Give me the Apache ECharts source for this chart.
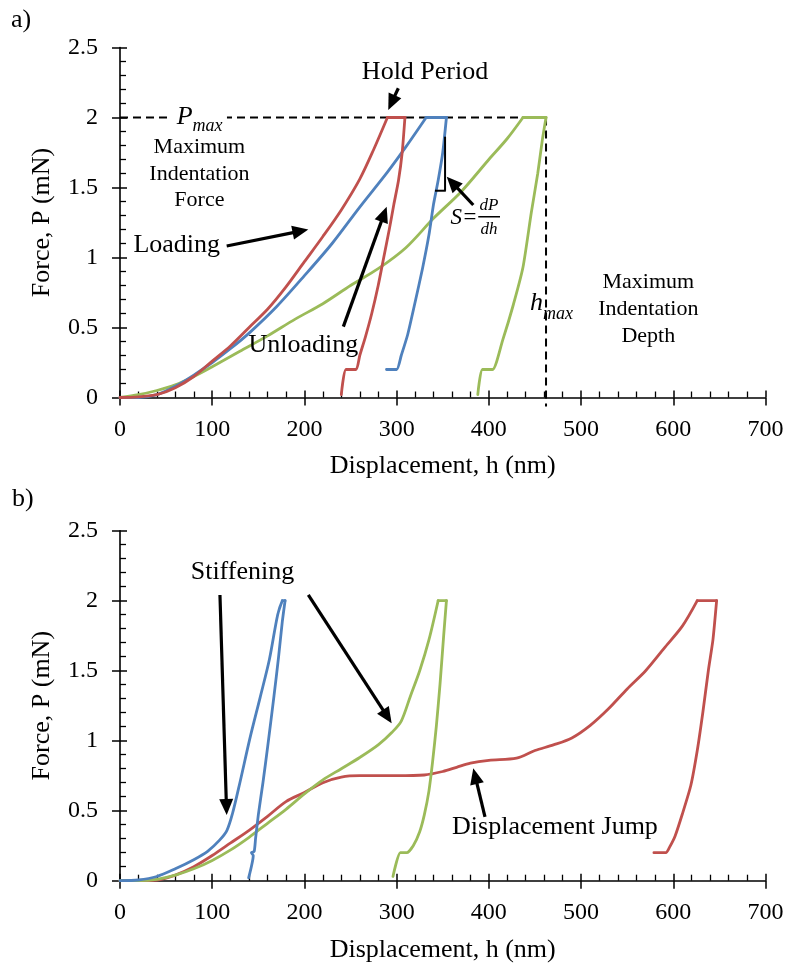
<!DOCTYPE html>
<html><head><meta charset="utf-8">
<script src="https://cdn.jsdelivr.net/npm/echarts@6/dist/echarts.min.js"></script>
<style>html,body{margin:0;padding:0;background:#fff}#c{width:787px;height:968px}</style>
</head><body><div id="c"></div>
<script>
// ---------- DATA ----------
const xTickValues = [0, 100, 200, 300, 400, 500, 600, 700];
const yTickValues = [0, 0.5, 1, 1.5, 2, 2.5];
const pMax = 2.0;
const hMax = 462;

// (a) top panel
const aRedX   = [0,20,40,60,80,100,120,140,160,180,200,220,240,260,275,290,309,306,302,297,292,286,280,273,266,260,256,245,240];
const aRedP   = [0,0.005,0.02,0.07,0.15,0.26,0.37,0.5,0.63,0.79,0.97,1.15,1.34,1.56,1.77,2.0,2.0,1.75,1.55,1.38,1.2,1.0,0.8,0.6,0.43,0.3,0.2,0.2,0.02];
const aBlueX  = [0,20,40,60,80,100,120,140,170,200,230,260,290,310,332,354,350,345,340,335,328,320,312,305,300,289];
const aBlueP  = [0,0,0.02,0.08,0.16,0.25,0.35,0.46,0.65,0.87,1.1,1.36,1.61,1.79,2.0,2.0,1.75,1.55,1.38,1.16,0.92,0.68,0.45,0.3,0.2,0.2];
const aGreenX = [0,20,40,60,80,100,130,160,190,220,250,280,310,340,370,400,420,437,462,458,453,446,437,426,415,404,393,388];
const aGreenP = [0,0.02,0.05,0.09,0.15,0.22,0.33,0.44,0.56,0.67,0.8,0.92,1.07,1.28,1.47,1.7,1.85,2.0,2.0,1.84,1.6,1.32,0.93,0.65,0.41,0.2,0.2,0.02];

// (b) bottom panel
const bRedX   = [0,20,40,60,80,100,120,140,160,180,200,220,240,260,300,330,350,365,380,400,430,450,470,490,510,530,550,570,590,610,626,647,643,638,632,626,619,610,602,596,592,579];
const bRedP   = [0,0,0.005,0.04,0.1,0.18,0.27,0.36,0.46,0.565,0.63,0.7,0.74,0.75,0.75,0.755,0.78,0.81,0.84,0.86,0.875,0.93,0.97,1.02,1.11,1.23,1.37,1.5,1.66,1.82,2.0,2.0,1.72,1.5,1.2,0.93,0.68,0.48,0.32,0.24,0.2,0.2];
const bBlueX  = [0,20,40,60,80,95,108,116,122,130,141,152,162,171,176,179,176,172,167,160,155,150,147,145.5,142.5,144.5,139.5];
const bBlueP  = [0,0.005,0.03,0.085,0.15,0.21,0.29,0.36,0.48,0.7,1.02,1.31,1.58,1.9,2.0,2.0,1.85,1.6,1.32,0.95,0.7,0.47,0.3,0.21,0.2,0.18,0.02];
const bGreenX = [0,20,40,60,80,100,120,140,160,180,200,220,240,260,280,295,305,315,325,335,345,354,351,347,343,339,335,330,325,318,311,304,296];
const bGreenP = [0,0,0.01,0.04,0.085,0.145,0.22,0.31,0.41,0.51,0.62,0.72,0.8,0.88,0.97,1.06,1.14,1.32,1.5,1.72,2.0,2.0,1.75,1.4,1.1,0.85,0.64,0.47,0.35,0.25,0.2,0.2,0.03];

// ---------- CHART ----------
const FONT = '"Liberation Serif", "Times New Roman", serif';
const RED = '#C0504D', BLUE = '#4F81BD', GREEN = '#9BBB59';
const chart = echarts.init(document.getElementById('c'), null, {renderer: 'canvas'});

function zip(xs, ps) { return xs.map((x, i) => [x, ps[i]]); }
function lineSeries(data, color, ai, smooth) {
  return {type: 'line', xAxisIndex: ai, yAxisIndex: ai, data: data, showSymbol: false, symbol: 'none',
    smooth: smooth, lineStyle: {color: color, width: 2.8, cap: 'round', join: 'round'}, itemStyle: {color: color},
    animation: false, clip: false, z: 3};
}
// one indentation curve = loading (smooth) + hold (straight) + unloading (smooth)
function curve(xs, ps, color, ai) {
  const d = zip(xs, ps);
  const i1 = ps.indexOf(pMax), i2 = i1 + 1;
  return [
    lineSeries(d.slice(0, i1 + 1), color, ai, 0.3),
    lineSeries(d.slice(i1, i2 + 1), color, ai, false),
    lineSeries(d.slice(i2), color, ai, 0.2)
  ];
}
function mainX(gi) {
  return {type: 'value', gridIndex: gi, min: 0, max: 700, interval: 100, position: 'bottom',
    axisLine: {show: true, onZero: false, lineStyle: {color: '#000', width: 1.6}},
    axisTick: {show: true, inside: true, length: 7, lineStyle: {color: '#000', width: 1.5}},
    minorTick: {show: true, splitNumber: 5, length: 6, lineStyle: {color: '#000', width: 1.3}},
    splitLine: {show: false}, minorSplitLine: {show: false},
    axisLabel: {margin: 20, fontFamily: FONT, fontSize: 24, color: '#000', showMinLabel: true, showMaxLabel: true,
      formatter: v => xTickValues.includes(v) ? String(v) : ''},
    name: 'Displacement, h (nm)', nameLocation: 'middle', nameGap: 56,
    nameTextStyle: {fontFamily: FONT, fontSize: 26, color: '#000'}};
}
function dummyX(gi) {
  return {type: 'value', gridIndex: gi, min: 0, max: 700, interval: 100, position: 'bottom',
    axisLine: {show: false, onZero: false}, axisTick: {show: true, inside: false, length: 8, lineStyle: {color: '#000', width: 1.5}},
    minorTick: {show: false}, splitLine: {show: false}, axisLabel: {show: false}};
}
function mainY(gi) {
  return {type: 'value', gridIndex: gi, min: 0, max: 2.5, interval: 0.5, position: 'left',
    axisLine: {show: true, onZero: false, lineStyle: {color: '#000', width: 1.6}},
    axisTick: {show: true, inside: true, length: 7, lineStyle: {color: '#000', width: 1.5}},
    minorTick: {show: true, splitNumber: 5, length: 6, lineStyle: {color: '#000', width: 1.3}},
    splitLine: {show: false}, minorSplitLine: {show: false},
    axisLabel: {margin: 22, fontFamily: FONT, fontSize: 24, color: '#000', showMinLabel: true, showMaxLabel: true,
      formatter: v => yTickValues.includes(v) ? String(v) : ''},
    name: 'Force, P (mN)', nameLocation: 'middle', nameGap: 65, nameRotate: 90,
    nameTextStyle: {fontFamily: FONT, fontSize: 26, color: '#000'}};
}
function dummyY(gi) {
  return {type: 'value', gridIndex: gi, min: 0, max: 2.5, interval: 0.5, position: 'left',
    axisLine: {show: false, onZero: false}, axisTick: {show: true, inside: false, length: 8, lineStyle: {color: '#000', width: 1.5}},
    minorTick: {show: false}, splitLine: {show: false}, axisLabel: {show: false}};
}

const dashStyle = {color: '#000', width: 2, type: [8, 5]};
chart.setOption({
  animation: false,
  backgroundColor: '#fff',
  grid: [
    {left: 120, top: 47.5, width: 645.5, height: 350, containLabel: false, outerBoundsMode: 'none'},
    {left: 120, top: 530.7, width: 645.5, height: 350, containLabel: false, outerBoundsMode: 'none'}
  ],
  xAxis: [mainX(0), mainX(1), dummyX(0), dummyX(1)],
  yAxis: [mainY(0), mainY(1), dummyY(0), dummyY(1)],
  series: [
    {type: 'line', xAxisIndex: 0, yAxisIndex: 0, data: [[0, pMax], [hMax, pMax]], showSymbol: false, symbol: 'none',
      lineStyle: dashStyle, clip: false, z: 2, animation: false},
    {type: 'line', xAxisIndex: 0, yAxisIndex: 0, data: [[hMax, pMax], [hMax, -0.065]], showSymbol: false, symbol: 'none',
      lineStyle: dashStyle, clip: false, z: 2, animation: false}
  ].concat(
    curve(aGreenX, aGreenP, GREEN, 0),
    curve(aBlueX, aBlueP, BLUE, 0),
    curve(aRedX, aRedP, RED, 0),
    curve(bRedX, bRedP, RED, 1),
    curve(bGreenX, bGreenP, GREEN, 1),
    curve(bBlueX, bBlueP, BLUE, 1)
  )
});

// ---------- ANNOTATIONS (placed in data coordinates) ----------
const ANN = [];
function px(gi, pt) { return chart.convertToPixel({gridIndex: gi}, pt); }
function txt(gi, x, p, text, size, o) {
  o = o || {};
  const q = px(gi, [x, p]);
  const st = {text: text, x: q[0], y: q[1], fill: '#000', font: (o.italic ? 'italic ' : '') + size + 'px ' + FONT,
    align: o.align || 'center', verticalAlign: 'middle'};
  if (o.lh) st.lineHeight = o.lh;
  ANN.push({type: 'text', z: 100, style: st});
}
function seg(gi, a, b, w) {
  const p1 = px(gi, a), p2 = px(gi, b);
  ANN.push({type: 'line', z: 100, shape: {x1: p1[0], y1: p1[1], x2: p2[0], y2: p2[1]}, style: {stroke: '#000', lineWidth: w}});
}
function arrow(gi, a, b) {
  const p1 = px(gi, a), p2 = px(gi, b);
  const dx = p2[0] - p1[0], dy = p2[1] - p1[1], L = Math.hypot(dx, dy), ux = dx / L, uy = dy / L;
  const hl = 16, hw = 7;
  const bx = p2[0] - ux * hl, by = p2[1] - uy * hl;
  ANN.push({type: 'line', z: 100, shape: {x1: p1[0], y1: p1[1], x2: bx + ux * 3, y2: by + uy * 3}, style: {stroke: '#000', lineWidth: 3.2}});
  ANN.push({type: 'polygon', z: 100, shape: {points: [[p2[0], p2[1]], [bx - uy * hw, by + ux * hw], [bx + uy * hw, by - ux * hw]]}, style: {fill: '#000'}});
}

// panel (a)
const r1 = px(0, [56, pMax]), r2 = px(0, [116, pMax]);
ANN.push({type: 'rect', z: 99, shape: {x: r1[0], y: r1[1] - 4, width: r2[0] - r1[0], height: 8}, style: {fill: '#fff'}});
txt(0, 61.5, 2.0, 'P', 26, {italic: true, align: 'left'});
txt(0, 78.5, 1.936, 'max', 18, {italic: true, align: 'left'});
txt(0, 86.1, 1.596, 'Maximum\nIndentation\nForce', 22, {lh: 26.5});
txt(0, 330.8, 2.325, 'Hold Period', 26);
arrow(0, [301.8, 2.209], [290.9, 2.054]);
txt(0, 61.5, 1.088, 'Loading', 26);
arrow(0, [115.7, 1.082], [204.2, 1.2]);
txt(0, 198.8, 0.375, 'Unloading', 26);
arrow(0, [242.2, 0.506], [289.2, 1.363]);
txt(0, 373, 1.282, 'S=', 23, {italic: true});
txt(0, 400.2, 1.372, 'dP', 17, {italic: true});
txt(0, 400.2, 1.2, 'dh', 17, {italic: true});
seg(0, [388.5, 1.291], [412.1, 1.291], 1.5);
arrow(0, [383.1, 1.375], [354.3, 1.577]);
seg(0, [352.5, 1.863], [352.5, 1.477], 2);
seg(0, [341.6, 1.477], [353.3, 1.477], 2);
txt(0, 444.6, 0.675, 'h', 26, {italic: true, align: 'left'});
txt(0, 458.7, 0.596, 'max', 18, {italic: true, align: 'left'});
txt(0, 572.9, 0.632, 'Maximum\nIndentation\nDepth', 22, {lh: 27});

// panel (b)
txt(1, 132.8, 2.205, 'Stiffening', 26);
arrow(1, [108.4, 2.041], [115.7, 0.469]);
arrow(1, [204.2, 2.041], [294.6, 1.124]);
txt(1, 471.7, 0.38, 'Displacement Jump', 26);
arrow(1, [395.8, 0.456], [383.1, 0.803]);

// panel letters
ANN.push({type: 'text', z: 100, style: {text: 'a)', x: 11, y: 20, fill: '#000', font: '26px ' + FONT, align: 'left', verticalAlign: 'middle'}});
ANN.push({type: 'text', z: 100, style: {text: 'b)', x: 12, y: 499, fill: '#000', font: '26px ' + FONT, align: 'left', verticalAlign: 'middle'}});

chart.setOption({graphic: {elements: ANN}});
</script>
</body></html>
